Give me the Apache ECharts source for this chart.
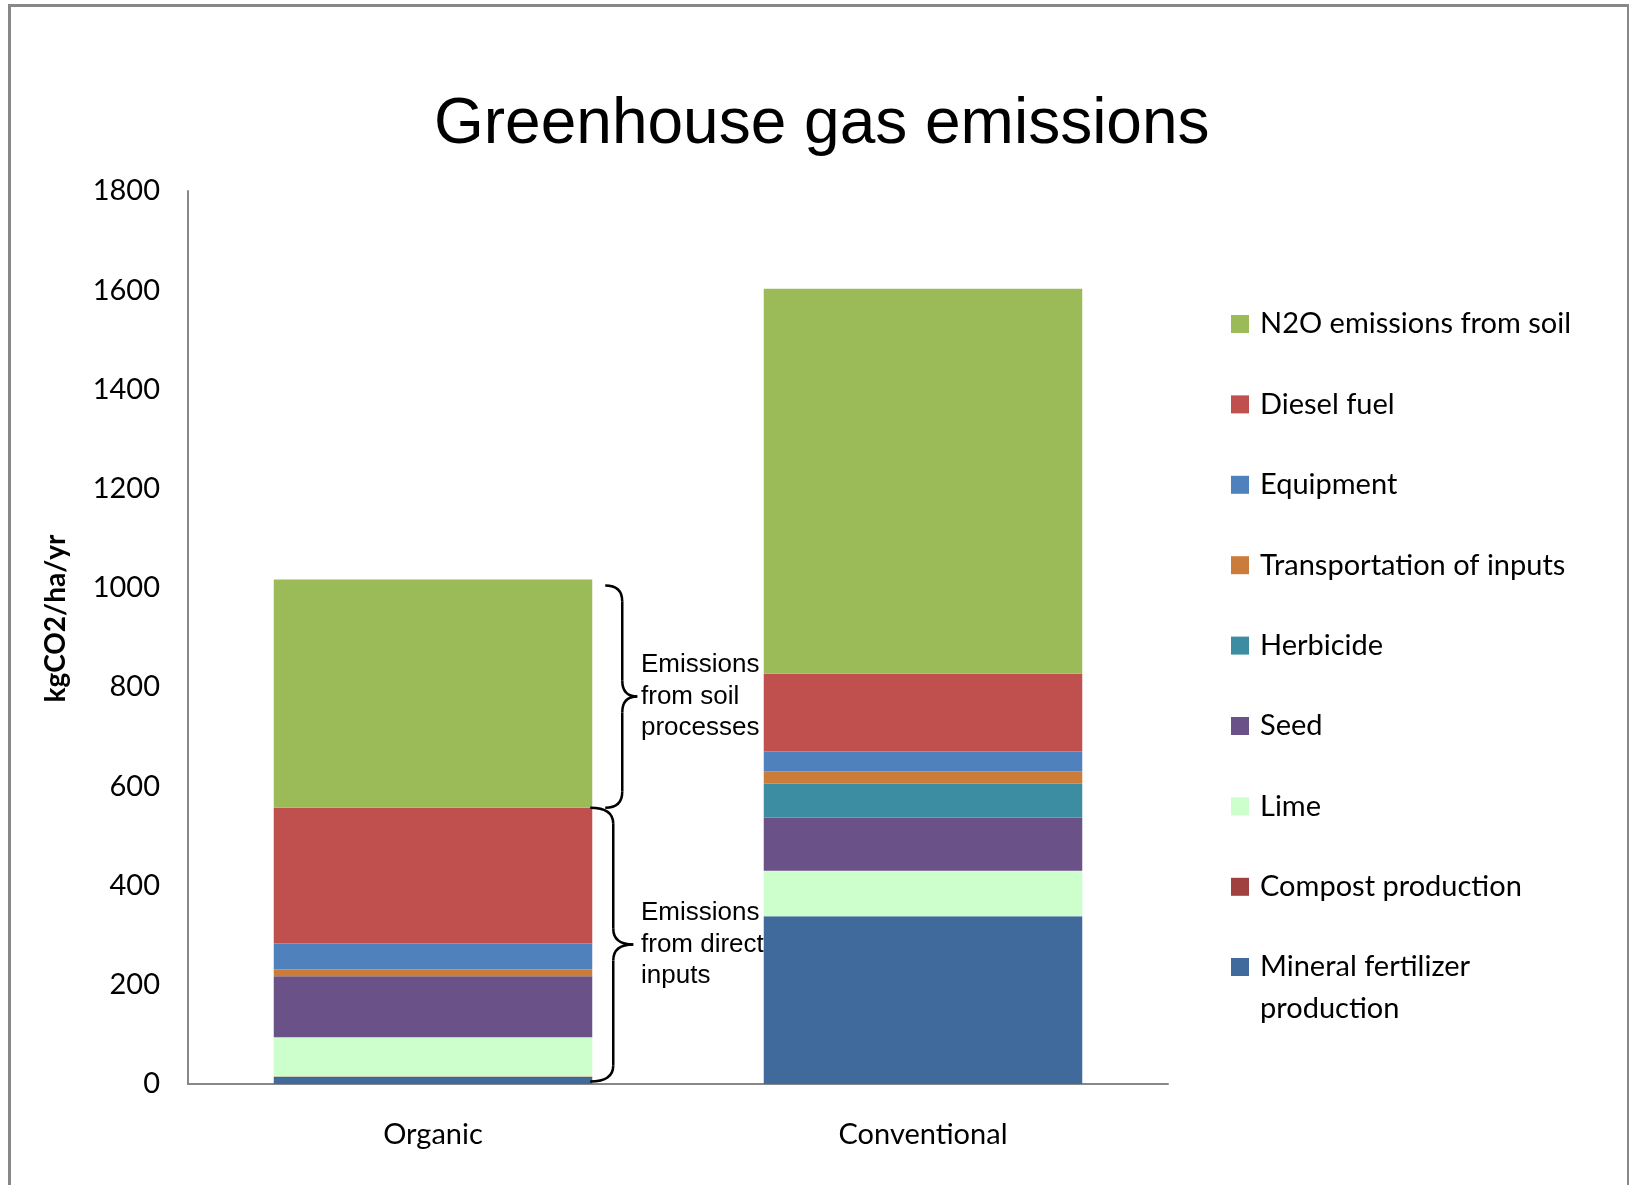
<!DOCTYPE html>
<html>
<head>
<meta charset="utf-8">
<title>Greenhouse gas emissions</title>
<script src="https://cdn.jsdelivr.net/npm/echarts@6/dist/echarts.min.js"></script>
<style>
  html, body { margin: 0; padding: 0; background: #ffffff; }
  #chart { width: 1629px; height: 1185px; }
</style>
</head>
<body>
<div id="chart"></div>
<script>
// Farm systems compared
const categories = ['Organic', 'Conventional'];

// Emission sources, kgCO2/ha/yr, stacked from the ground up
const mineralFertilizer = [12, 338];
const compostProduction = [3, 0];
const lime = [79, 92];
const seed = [123, 107];
const herbicide = [0, 68];
const transportation = [14, 25];
const equipment = [52, 40];
const dieselFuel = [274, 157];
const n2oSoil = [460, 776];

// Value axis range and step
const axisMin = 0;
const axisMax = 1800;
const axisStep = 200;

// Bracketed value spans on the Organic bar, with their notes
const braceFrom = [557, 5];
const braceTo = [1005, 557];
const braceNotes = ['Emissions\nfrom soil\nprocesses', 'Emissions\nfrom direct\ninputs'];

const stackOrder = [
  { name: 'Mineral fertilizer production', data: mineralFertilizer, color: '#406A9B' },
  { name: 'Compost production', data: compostProduction, color: '#A0413F' },
  { name: 'Lime', data: lime, color: '#CCFFCC' },
  { name: 'Seed', data: seed, color: '#6A5187' },
  { name: 'Herbicide', data: herbicide, color: '#3C8CA2' },
  { name: 'Transportation of inputs', data: transportation, color: '#CB7B3A' },
  { name: 'Equipment', data: equipment, color: '#4F81BD' },
  { name: 'Diesel fuel', data: dieselFuel, color: '#C0504D' },
  { name: 'N2O emissions from soil', data: n2oSoil, color: '#9BBB59' }
];

const labelFont = 'Lato';
const legendLine = 42;
const wrappedName = 'Mineral fertilizer production';

const chart = echarts.init(document.getElementById('chart'), null, { renderer: 'canvas' });

const legendNames = stackOrder.slice().reverse().map(function (s) { return s.name; });

const legendBase = {
  orient: 'vertical',
  left: 1231,
  padding: 0,
  itemWidth: 18,
  itemHeight: 18,
  itemGap: 38.4,
  icon: 'rect',
  selectedMode: false,
  textStyle: { fontFamily: labelFont, fontSize: 29, color: '#000000', lineHeight: legendLine, padding: [0, 0, 0, 6] }
};

chart.setOption({
  animation: false,
  backgroundColor: '#ffffff',
  title: {
    text: 'Greenhouse gas emissions',
    left: 434,
    top: 93,
    padding: 0,
    textAlign: 'left',
    textStyle: { fontFamily: 'Liberation Sans', fontSize: 64, fontWeight: 'normal', color: '#000000' }
  },
  legend: [
    Object.assign({}, legendBase, {
      top: 303,
      data: legendNames.filter(function (n) { return n !== wrappedName; })
    }),
    // the two-line entry: a blank lead line keeps its first line level with the swatch
    Object.assign({}, legendBase, {
      top: 904,
      data: [wrappedName],
      formatter: function () { return '\nMineral fertilizer\nproduction'; }
    })
  ],
  grid: { left: 188, right: 461, top: 191, height: 893, containLabel: false },
  xAxis: {
    type: 'category',
    data: categories,
    axisLine: { show: true, lineStyle: { color: '#888888', width: 2 } },
    axisTick: { show: false },
    axisLabel: { margin: 36, fontFamily: labelFont, fontSize: 29, color: '#000000' }
  },
  yAxis: {
    type: 'value',
    min: axisMin,
    max: axisMax,
    interval: axisStep,
    name: 'kgCO2/ha/yr',
    nameLocation: 'middle',
    nameGap: 118,
    nameTextStyle: { fontFamily: labelFont, fontSize: 28, fontWeight: 'bold', color: '#000000', padding: [0, 0, 0, 38] },
    axisLine: { show: true, lineStyle: { color: '#888888', width: 2 } },
    axisTick: { show: false },
    splitLine: { show: false },
    axisLabel: {
      margin: 28, fontFamily: labelFont, fontSize: 29, color: '#000000',
      formatter: function (v) { return String(v); }
    }
  },
  series: stackOrder.map(function (s) {
    return {
      name: s.name,
      type: 'bar',
      stack: 'total',
      barWidth: '65%',
      data: s.data,
      itemStyle: { color: s.color },
      emphasis: { disabled: true }
    };
  })
});

// Curly brace opening to the left, tip pointing right, built from curves and lines
function braceParts(x0, xv, xt, yTop, yBot) {
  const ym = (yTop + yBot) / 2;
  const r = 16;
  const st = { fill: 'none', stroke: '#000000', lineWidth: 2.5 };
  const curve = function (x1, y1, cx, cy, x2, y2) {
    return { type: 'bezierCurve', silent: true, z: 100, shape: { x1: x1, y1: y1, cpx1: cx, cpy1: cy, x2: x2, y2: y2 }, style: st };
  };
  const line = function (x1, y1, x2, y2) {
    return { type: 'line', silent: true, z: 100, shape: { x1: x1, y1: y1, x2: x2, y2: y2 }, style: st };
  };
  return [
    curve(x0, yTop, xv, yTop, xv, yTop + r),
    line(xv, yTop + r, xv, ym - r),
    curve(xv, ym - r, xv, ym, xt, ym),
    curve(xt, ym, xv, ym, xv, ym + r),
    line(xv, ym + r, xv, yBot - r),
    curve(xv, yBot - r, xv, yBot, x0, yBot)
  ];
}

const c0 = chart.convertToPixel({ xAxisIndex: 0 }, 0);
const c1 = chart.convertToPixel({ xAxisIndex: 0 }, 1);
const barRight = c0 + (c1 - c0) * 0.325;
// horizontal offsets of each brace from the bar edge: [start, stem, tip]
const braceOffsets = [[13, 30, 45], [-2, 21, 41]];

let elements = [{
  type: 'rect',
  silent: true,
  z: 100,
  shape: { x: 9.5, y: 5.5, width: 1619, height: 1300 },
  style: { fill: 'none', stroke: '#888888', lineWidth: 3 }
}];

braceFrom.forEach(function (v, i) {
  const yBot = chart.convertToPixel({ yAxisIndex: 0 }, v);
  const yTop = chart.convertToPixel({ yAxisIndex: 0 }, braceTo[i]);
  const o = braceOffsets[i];
  elements = elements.concat(braceParts(barRight + o[0], barRight + o[1], barRight + o[2], yTop, yBot));
  elements.push({
    type: 'text',
    silent: true,
    z: 1,
    x: 641,
    y: (yTop + yBot) / 2,
    style: {
      text: braceNotes[i],
      font: '26px "Liberation Sans"',
      fill: '#000000',
      lineHeight: 31.5,
      verticalAlign: 'middle',
      align: 'left'
    }
  });
});

chart.setOption({ graphic: { elements: elements } });
</script>
</body>
</html>
